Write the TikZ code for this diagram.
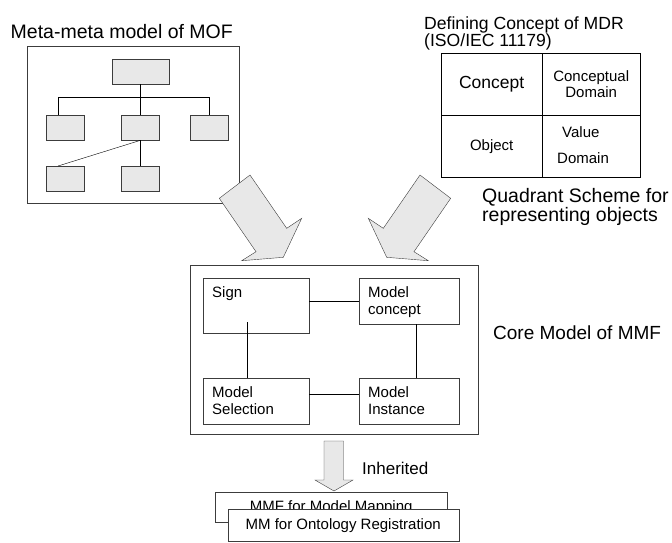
\documentclass[tikz,border=0pt]{standalone}
\usepackage{fontspec}
\setmainfont{Liberation Sans}
\usetikzlibrary{positioning}
\definecolor{boxgray}{HTML}{E8E8E8}
\definecolor{edgegray}{HTML}{3C3C3C}

\begin{document}
\begin{tikzpicture}[x=1pt,y=-1pt,
	txt/.style={inner sep=0pt},
	lbl/.style={inner sep=0pt,anchor=north west,align=left,font=\fontsize{15}{17}\selectfont},
	frame/.style={draw=edgegray,inner sep=0pt,anchor=north west},
	graybox/.style={draw=edgegray,fill=boxgray,inner sep=0pt,anchor=north west,minimum width=37.5pt,minimum height=25pt},
	cell/.style={draw=black,inner sep=0pt,anchor=north west,minimum height=62pt,align=center},
	bigarrow/.style={draw=edgegray,fill=boxgray,line join=miter}]
	\useasboundingbox (0,0) rectangle (672,542);
	%MOF meta-meta model
	\node[txt,anchor=base west,font=\fontsize{19.5}{20}\selectfont] (moftitle) at (10.5,38.3) {Meta-meta model of MOF};
	\node[frame,minimum width=212pt,minimum height=157pt] (mof) at (27,46) {};
	\node[graybox,minimum width=57pt] (root) at (111.5,59) {};
	\node[graybox] (c1) at (46,115) {};
	\node[graybox] (c2) at (121.25,115) {};
	\node[graybox] (c3) at (190,115) {};
	\node[graybox] (g1) at (46,166) {};
	\node[graybox] (g2) at (121.25,166) {};
	\draw (root.south) -- (c2.north);
	\draw ([xshift=12pt]c1.north west) -- ++(0,-18) -| (c3.north);
	\draw (c2.south) -- (g2.north);
	\draw (c2.south) -- ([xshift=12pt]g1.north west);
	%MDR quadrant
	\node[txt,anchor=north west,align=left,font=\fontsize{17.6}{17.3}\selectfont] (mdrtitle) at (424,16.7) {Defining Concept of MDR\\(ISO/IEC 11179)};
	\node[cell,minimum width=101pt,font=\fontsize{17.5}{20}\selectfont] (concept) at (441,53) {Concept};
	\node[cell,minimum width=98pt,font=\fontsize{15}{16.7}\selectfont] (cdomain) at (542,53) {Conceptual\\Domain};
	\node[cell,minimum width=101pt,font=\fontsize{15}{17}\selectfont] (object) at (441,115) {Object};
	\node[cell,minimum width=98pt] (vdomain) at (542,115) {};
	\node[lbl,font=\fontsize{15}{26.7}\selectfont] (vdlabel) at ([xshift=15pt,yshift=-11pt]vdomain.north west) {\hspace*{5pt}Value\\Domain};
	\node[txt,anchor=north west,align=left,font=\fontsize{19.5}{17.3}\selectfont] (quadrant) at (482,188) {Quadrant Scheme for\\representing objects};
	%big arrows
	\filldraw[bigarrow] (219.3,198.3) -- (250,175) -- (286.7,228.3) -- (301.7,218.3) -- (283.3,257.3) -- (241.7,260.7) -- (256,251.7) -- cycle;
	\filldraw[bigarrow] (450.7,198.3) -- (420,175) -- (383.3,228.3) -- (368.3,218.3) -- (386.7,257.3) -- (428.3,260.7) -- (414,251.7) -- cycle;
	%MMF core model
	\node[frame,minimum width=288pt,minimum height=169pt] (core) at (190,265) {};
	\node[txt,anchor=west,font=\fontsize{19}{20}\selectfont] (coretitle) at (493,333) {Core Model of MMF};
	\node[frame,minimum width=106pt,minimum height=55pt] (sign) at (203,278) {};
	\node[frame,minimum width=100pt,minimum height=46pt] (mconcept) at (359,278) {};
	\node[frame,minimum width=106pt,minimum height=46pt] (selection) at (203,378) {};
	\node[frame,minimum width=100pt,minimum height=46pt] (instance) at (359,378) {};
	\node[lbl] at ([xshift=9pt,yshift=-8.5pt]sign.north west) {Sign};
	\node[lbl] at ([xshift=9pt,yshift=-8.5pt]mconcept.north west) {Model\\concept};
	\node[lbl] at ([xshift=9pt,yshift=-8.5pt]selection.north west) {Model\\Selection};
	\node[lbl] at ([xshift=9pt,yshift=-8.5pt]instance.north west) {Model\\Instance};
	\draw (sign.east |- mconcept.west) -- (mconcept.west);
	\draw ([xshift=44pt,yshift=11pt]sign.south west) -- ([xshift=44pt]selection.north west);
	\draw ([xshift=57pt]mconcept.south west) -- ([xshift=57pt]instance.north west);
	\draw ([yshift=-16pt]selection.north east) -- ([yshift=-16pt]instance.north west);
	%inheritance
	\filldraw[bigarrow] (324,441) -- (343.5,441) -- (343.5,480) -- (353,480) -- (334,491) -- (315,480) -- (324,480) -- cycle;
	\node[txt,anchor=base west,font=\fontsize{17}{18}\selectfont] (inherited) at (362,474) {Inherited};
	\node[frame,minimum width=232pt,minimum height=30pt,font=\fontsize{15}{17}\selectfont] (mapping) at (215,492) {MMF for Model Mapping};
	\node[frame,fill=white,minimum width=231pt,minimum height=32pt,font=\fontsize{15}{17}\selectfont] (registration) at (227.5,509) {MM for Ontology Registration};
\end{tikzpicture}
\end{document}
